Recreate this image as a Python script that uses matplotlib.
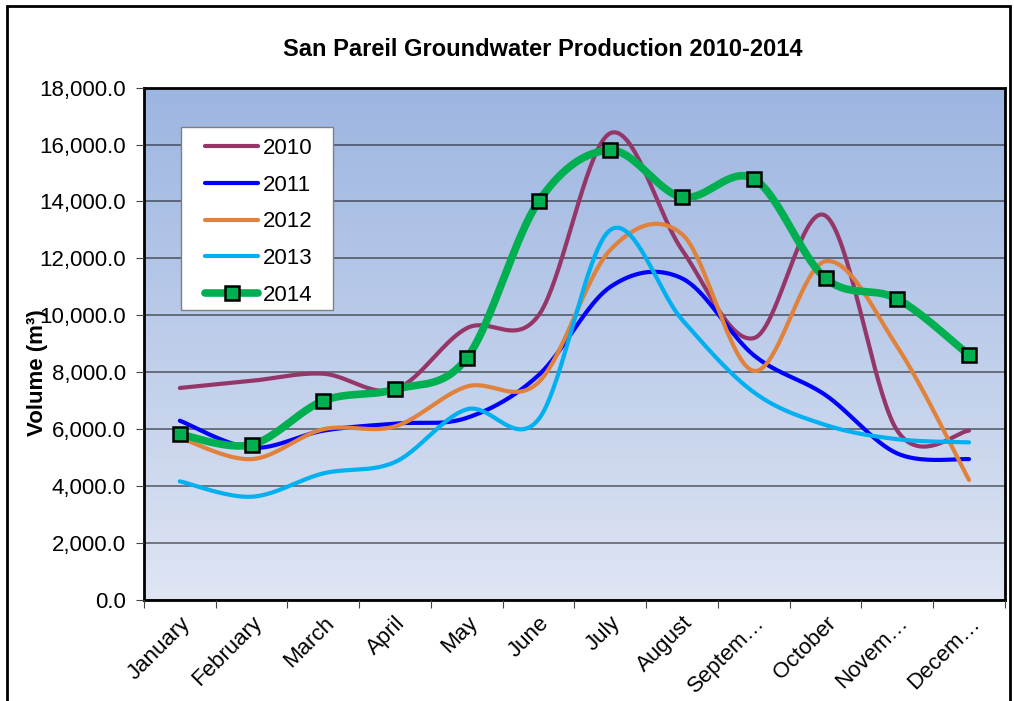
import numpy as np
import matplotlib
matplotlib.use('Agg')
import matplotlib.pyplot as plt
from matplotlib.colors import LinearSegmentedColormap
from matplotlib.patches import Rectangle

plt.rcParams['font.family'] = ['Liberation Sans', 'DejaVu Sans']

# Dados
meses = ['January', 'February', 'March', 'April', 'May', 'June', 'July',
         'August', 'Septem\u2026', 'October', 'Novem\u2026', 'Decem\u2026']
v2010 = [7450, 7700, 7950, 7400, 9550, 10000, 16400, 12300, 9200, 13500, 5950, 5950]
v2011 = [6300, 5350, 5950, 6200, 6400, 7900, 11000, 11300, 8600, 7200, 5150, 4950]
v2012 = [5700, 4950, 6000, 6100, 7500, 7650, 12300, 12850, 8050, 11900, 8900, 4220]
v2013 = [4170, 3630, 4450, 4850, 6700, 6350, 13000, 9850, 7300, 6150, 5650, 5540]
v2014 = [5820, 5460, 7000, 7400, 8500, 14000, 15800, 14150, 14800, 11300, 10580, 8600]

series = [('2010', v2010, '#943668'), ('2011', v2011, '#0000FF'),
          ('2012', v2012, '#E0823C'), ('2013', v2013, '#00B0F0')]


def suavizar(y, n=40):
    # curva tipo Excel (Bezier com tangentes de Catmull-Rom)
    p = np.column_stack([np.arange(len(y)), np.asarray(y, float)])
    xs, ys = [], []
    t = np.linspace(0, 1, n)[:, None]
    for i in range(len(p) - 1):
        p0 = p[i - 1] if i > 0 else p[i]
        p1, p2 = p[i], p[i + 1]
        p3 = p[i + 2] if i + 2 < len(p) else p[i + 1]
        c1 = p1 + (p2 - p0) / 6
        c2 = p2 - (p3 - p1) / 6
        b = (1 - t) ** 3 * p1 + 3 * (1 - t) ** 2 * t * c1 + 3 * (1 - t) * t ** 2 * c2 + t ** 3 * p2
        xs.extend(b[:, 0])
        ys.extend(b[:, 1])
    return xs, ys


fig = plt.figure(figsize=(10.14, 7.01), dpi=100)
ax = fig.add_axes([0.142, 0.144, 0.849, 0.731])

# fundo em degradê
cmap = LinearSegmentedColormap.from_list('fundo', ['#9CB5E1', '#DFE5F3'])
ax.imshow(np.linspace(0, 1, 256).reshape(-1, 1), extent=[-0.5, 11.5, 0, 18000],
          aspect='auto', cmap=cmap, origin='upper', zorder=0)

ax.set_xlim(-0.5, 11.5)
ax.set_ylim(0, 18000)
ax.set_yticks(np.arange(0, 18001, 2000))
ax.set_yticklabels([f'{v:,.1f}' for v in np.arange(0, 18001, 2000)], fontsize=16)
ax.yaxis.grid(True, color='black', alpha=0.55, lw=1.2, zorder=1)
ax.set_axisbelow(False)

ax.set_xticks(np.arange(-0.5, 12, 1))
ax.set_xticklabels([])
ax.set_xticks(np.arange(12), minor=True)
ax.set_xticklabels(meses, minor=True, rotation=45, ha='right',
                   rotation_mode='anchor', fontsize=16)
ax.tick_params(axis='x', which='minor', length=0, pad=9)
ax.tick_params(axis='both', which='major', length=6, color='#444444', direction='out')
ax.tick_params(axis='y', pad=7)

for s in ax.spines.values():
    s.set_linewidth(2)
    s.set_color('black')

for nome, vals, cor in series:
    xs, ys = suavizar(vals)
    ax.plot(xs, ys, color=cor, lw=3, solid_capstyle='round', zorder=3)
    ax.plot([], [], color=cor, lw=3, solid_capstyle='round', label=nome)

xs, ys = suavizar(v2014)
ax.plot(xs, ys, color='#00B050', lw=5.5, solid_capstyle='round', zorder=4)
ax.plot(range(12), v2014, ls='none', marker='s', ms=10, mfc='#00B050',
        mec='black', mew=1.8, zorder=5)
ax.plot([], [], color='#00B050', lw=5.5, marker='s', ms=10, mfc='#00B050',
        mec='black', mew=1.8, label='2014', solid_capstyle='round')

# caixa da legenda desenhada à parte
ax.add_patch(Rectangle((0.0431, 0.566), 0.177, 0.357, transform=ax.transAxes,
                       facecolor='white', edgecolor='#808080', lw=1, zorder=6))
leg = ax.legend(loc='upper left', bbox_to_anchor=(0.071, 0.902), fontsize=16,
                frameon=False, handlelength=2.4, labelspacing=0.71,
                borderpad=0, handletextpad=0.22, borderaxespad=0)
leg.set_zorder(7)

ax.set_ylabel('Volume (m\u00b3)', fontsize=16, fontweight='bold')
ax.yaxis.set_label_coords(-0.112, 0.443)

fig.text(0.535, 0.929, 'San Pareil Groundwater Production 2010-2014',
         ha='center', va='center', fontsize=17, fontweight='bold')

fig.patches.append(Rectangle((7 / 1014, -0.05), 1003 / 1014, 1 - 6 / 701 + 0.05,
                             transform=fig.transFigure, fill=False,
                             edgecolor='black', lw=2))

fig.savefig('out.png', dpi=100)
